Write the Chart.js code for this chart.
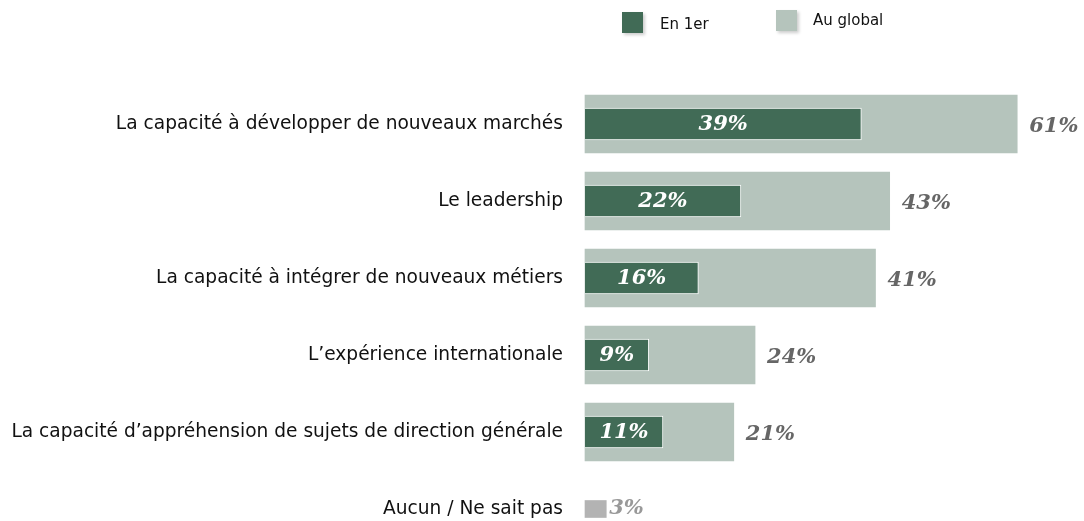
<!DOCTYPE html>
<html lang="fr">
<head>
  <meta charset="UTF-8">
  <title>Compétences</title>
  <script src="https://cdn.jsdelivr.net/npm/chart.js"></script>
  <style>
    body { margin: 0; background: #fff; font-family: 'DejaVu Sans', sans-serif; }
    #wrap { position: relative; width: 1084px; height: 521px; }
    .leg { position: absolute; font-size: 15px; color: #111; }
    .leg span { position: absolute; width: 21px; height: 21px; box-shadow: 2px 2px 3px rgba(0,0,0,0.2); }
  </style>
</head>
<body>
  <div id="wrap">
    <canvas id="chart" width="1084" height="521"></canvas>
    <div class="leg" style="left:622px;top:12px;"><span style="background:#416b56;left:0;top:0;"></span><b style="font-weight:normal;position:absolute;left:38px;top:3px;white-space:nowrap;">En 1er</b></div>
    <div class="leg" style="left:776px;top:10px;"><span style="background:#b5c4bc;left:0;top:0;"></span><b style="font-weight:normal;position:absolute;left:37px;top:1px;white-space:nowrap;">Au global</b></div>
  </div>

  <script>
    const labels = [
      'La capacité à développer de nouveaux marchés',
      'Le leadership',
      'La capacité à intégrer de nouveaux métiers',
      'L’expérience internationale',
      'La capacité d’appréhension de sujets de direction générale',
      'Aucun / Ne sait pas'
    ];
    const en1er = [39, 22, 16, 9, 11, null];
    const auGlobal = [61, 43, 41, 24, 21, null];
    const aucun = [null, null, null, null, null, 3];

    // étiquettes de valeurs
    const valueLabels = {
      id: 'valueLabels',
      afterDatasetsDraw(chart) {
        const ctx = chart.ctx;
        ctx.save();
        ctx.font = 'italic bold 21px "DejaVu Serif", serif';
        ctx.textBaseline = 'middle';
        chart.data.datasets.forEach((ds, i) => {
          const meta = chart.getDatasetMeta(i);
          meta.data.forEach((bar, j) => {
            const v = ds.data[j];
            if (v == null) return;
            const txt = v + '%';
            if (i === 1) {
              ctx.fillStyle = '#fff';
              ctx.textAlign = 'center';
              ctx.fillText(txt, (bar.x + bar.base) / 2, bar.y + 1);
            } else if (i === 0) {
              ctx.fillStyle = '#666';
              ctx.textAlign = 'left';
              ctx.fillText(txt, bar.x + 12, bar.y + 3);
            } else {
              ctx.fillStyle = '#999';
              ctx.textAlign = 'left';
              ctx.fillText(txt, bar.x + 3, bar.y);
            }
          });
        });
        ctx.restore();
      }
    };

    new Chart(document.getElementById('chart'), {
      type: 'bar',
      data: {
        labels,
        datasets: [
          { label: 'Au global', data: auGlobal, backgroundColor: '#b5c4bc', barThickness: 58, grouped: false, clip: false, order: 2 },
          { label: 'En 1er', data: en1er, backgroundColor: '#416b56', borderColor: '#ffffff', borderWidth: 1, barThickness: 32, grouped: false, clip: false, order: 1 },
          { label: 'Aucun', data: aucun, backgroundColor: '#b3b3b3', barThickness: 17, grouped: false, clip: false, order: 0 }
        ]
      },
      options: {
        indexAxis: 'y',
        responsive: false,
        animation: false,
        layout: { padding: { top: 124, bottom: 12, right: 3, left: 0 } },
        plugins: { legend: { display: false }, tooltip: { enabled: false } },
        scales: {
          x: { display: false, min: 0, max: 70 },
          y: {
            offset: false,
            grid: { display: false, drawTicks: false },
            border: { display: false },
            ticks: { color: '#111', padding: 22, font: { family: 'DejaVu Sans', size: 18.6 } },
            afterFit(scale) {
              scale.width = 585;
              scale.paddingTop = 0;
              scale.paddingBottom = 0;
            }
          }
        }
      },
      plugins: [valueLabels]
    });
  </script>
</body>
</html>
